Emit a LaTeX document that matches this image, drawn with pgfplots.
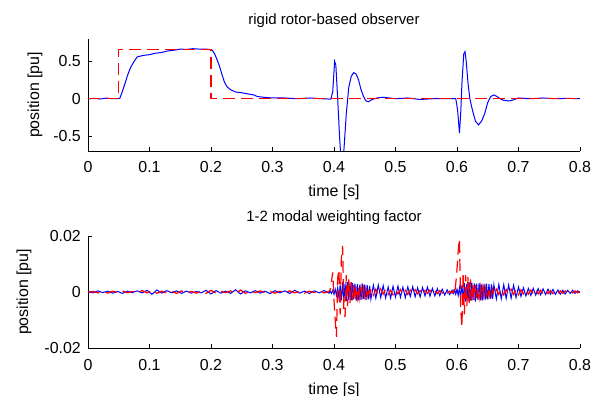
\documentclass[border=0pt]{standalone}
\usepackage{pgfplots}
\pgfplotsset{compat=1.18}
\usepackage{pgfplotstable}
\usepackage{fontspec}
\setmainfont{Liberation Sans}

\pgfplotstableread{
t b
0 0
0.01 0.005
0.02 -0.003
0.03 0.008
0.04 0
0.05 0.002
0.052 0.01
0.056 0.1
0.06 0.2
0.065 0.33
0.07 0.43
0.075 0.5
0.08 0.56
0.09 0.58
0.1 0.59
0.11 0.61
0.12 0.62
0.13 0.64
0.14 0.65
0.15 0.665
0.16 0.66
0.17 0.67
0.18 0.665
0.19 0.665
0.198 0.66
0.202 0.65
0.206 0.6
0.21 0.52
0.214 0.43
0.218 0.32
0.222 0.22
0.226 0.16
0.232 0.12
0.24 0.09
0.25 0.08
0.26 0.065
0.27 0.05
0.275 0.03
0.285 0.02
0.3 0.01
0.32 0.01
0.34 0
0.36 0.01
0.38 0
0.395 -0.005
0.398 0.1
0.401 0.5
0.403 0.45
0.406 0
0.409 -0.5
0.412 -0.9
0.416 -0.7
0.42 -0.2
0.424 0.15
0.428 0.3
0.432 0.35
0.436 0.33
0.44 0.25
0.444 0.12
0.448 0.03
0.452 -0.03
0.456 -0.04
0.462 -0.01
0.47 0.01
0.48 0.02
0.49 0.01
0.5 0
0.52 0.01
0.54 -0.01
0.56 0
0.58 0
0.598 0
0.601 -0.15
0.604 -0.46
0.606 -0.2
0.608 0.2
0.611 0.6
0.613 0.63
0.615 0.5
0.618 0.2
0.621 0
0.625 -0.15
0.63 -0.3
0.635 -0.35
0.64 -0.3
0.645 -0.2
0.65 -0.05
0.655 0.03
0.66 0.05
0.665 0.03
0.67 0
0.675 -0.02
0.685 -0.03
0.69 -0.02
0.70 0.01
0.72 0
0.74 0.01
0.76 0
0.78 0.005
0.8 0
}\topblue

\pgfplotstableread{
t r
0 0
0.05 0
0.05 0.66
0.2 0.66
0.2 0
0.8 0
}\topred

\pgfplotstableread{
t b r
0.000 0.0002 -0.0001
0.008 -0.0003 0.0002
0.016 0.0004 -0.0003
0.024 -0.0002 0.0001
0.032 0.0003 -0.0004
0.040 -0.0004 0.0003
0.048 0.0002 -0.0002
0.056 -0.0005 0.0004
0.064 0.0003 -0.0003
0.072 -0.0002 0.0002
0.080 0.0004 -0.0004
0.088 -0.0003 0.0005
0.096 0.0006 -0.0003
0.104 -0.0008 0.0006
0.112 0.0007 -0.0005
0.120 -0.0004 0.0003
0.128 0.0005 -0.0004
0.136 -0.0003 0.0002
0.144 0.0004 -0.0005
0.152 -0.0005 0.0004
0.160 0.0003 -0.0003
0.168 -0.0004 0.0002
0.176 0.0002 -0.0004
0.184 -0.0003 0.0003
0.192 0.0006 -0.0005
0.200 -0.0007 0.0006
0.208 0.0005 -0.0004
0.216 -0.0004 0.0003
0.224 0.0003 -0.0002
0.232 -0.0005 0.0004
0.240 0.0008 -0.0006
0.248 -0.0007 0.0007
0.256 0.0004 -0.0005
0.264 -0.0003 0.0003
0.272 0.0005 -0.0002
0.280 -0.0004 0.0004
0.288 0.0003 -0.0003
0.296 -0.0006 0.0002
0.304 0.0005 -0.0004
0.312 -0.0003 0.0003
0.320 0.0004 -0.0002
0.328 -0.0005 0.0004
0.336 0.0006 -0.0003
0.344 -0.0004 0.0002
0.352 0.0003 -0.0004
0.360 -0.0005 0.0003
0.368 0.0004 -0.0002
0.376 -0.0003 0.0004
0.384 0.0005 -0.0003
0.392 -0.0004 0.0002
0.394 0.0003 0.0010
0.396 -0.0005 0.0040
0.398 0.0006 0.0070
0.400 -0.0008 -0.0030
0.402 0.0010 -0.0100
0.404 -0.0012 -0.0160
0.406 0.0015 0.0050
0.408 -0.0020 0.0080
0.410 0.0025 -0.0080
0.412 -0.0030 0.0120
0.414 0.0035 0.0165
0.416 -0.0035 -0.0060
0.418 0.0030 -0.0090
0.420 -0.0032 0.0060
0.422 0.0036 -0.0050
0.424 -0.0028 0.0045
0.426 0.0034 -0.0040
0.428 -0.0030 0.0035
0.430 0.0032 -0.0030
0.432 -0.0026 0.0025
0.434 0.0030 -0.0030
0.436 -0.0032 0.0022
0.438 0.0028 -0.0020
0.440 -0.0030 0.0018
0.442 0.0026 -0.0022
0.444 -0.0028 0.0016
0.446 0.0030 -0.0015
0.448 -0.0024 0.0014
0.450 0.0026 -0.0016
0.452 -0.0028 0.0012
0.454 0.0024 -0.0014
0.456 -0.0026 0.0015
0.458 0.0022 -0.0012
0.460 -0.0025 0.0010
0.464 0.0024 -0.0012
0.468 -0.0022 0.0010
0.472 0.0025 -0.0009
0.476 -0.0020 0.0011
0.480 0.0023 -0.0008
0.484 -0.0021 0.0010
0.488 0.0018 -0.0009
0.492 -0.0022 0.0007
0.496 0.0020 -0.0010
0.500 -0.0018 0.0008
0.504 0.0021 -0.0007
0.508 -0.0019 0.0009
0.512 0.0017 -0.0008
0.516 -0.0020 0.0006
0.520 0.0018 -0.0009
0.524 -0.0016 0.0007
0.528 0.0019 -0.0006
0.532 -0.0017 0.0008
0.536 0.0015 -0.0007
0.540 -0.0018 0.0005
0.544 0.0016 -0.0008
0.548 -0.0014 0.0006
0.552 0.0017 -0.0005
0.556 -0.0015 0.0007
0.560 0.0013 -0.0006
0.564 -0.0014 0.0004
0.568 0.0012 -0.0006
0.572 -0.0013 0.0005
0.576 0.0010 -0.0004
0.580 -0.0011 0.0005
0.584 0.0008 -0.0004
0.588 -0.0009 0.0003
0.592 0.0006 -0.0004
0.594 -0.0005 0.0005
0.596 0.0006 -0.0010
0.598 -0.0008 0.0030
0.600 0.0010 0.0080
0.602 -0.0012 0.0150
0.604 0.0015 0.0190
0.606 -0.0020 -0.0060
0.608 0.0024 -0.0125
0.610 -0.0028 0.0070
0.612 0.0032 -0.0080
0.614 -0.0034 0.0060
0.616 0.0030 -0.0050
0.618 -0.0032 0.0055
0.620 0.0034 -0.0040
0.622 -0.0030 0.0045
0.624 0.0033 -0.0035
0.626 -0.0029 0.0030
0.628 0.0031 -0.0028
0.630 -0.0034 0.0025
0.632 0.0030 -0.0022
0.634 -0.0028 0.0020
0.636 0.0032 -0.0020
0.638 -0.0030 0.0018
0.640 0.0027 -0.0016
0.642 -0.0031 0.0017
0.644 0.0029 -0.0014
0.646 -0.0027 0.0015
0.648 0.0030 -0.0013
0.650 -0.0026 0.0012
0.652 0.0028 -0.0014
0.654 -0.0025 0.0011
0.656 0.0027 -0.0012
0.658 -0.0024 0.0010
0.660 0.0026 -0.0011
0.664 -0.0025 0.0010
0.668 0.0027 -0.0009
0.672 -0.0024 0.0011
0.676 0.0026 -0.0010
0.680 -0.0023 0.0009
0.684 0.0025 -0.0008
0.688 -0.0022 0.0010
0.692 0.0024 -0.0009
0.696 -0.0020 0.0008
0.700 0.0018 -0.0010
0.704 -0.0016 0.0008
0.708 0.0015 -0.0007
0.712 -0.0014 0.0009
0.716 0.0013 -0.0008
0.720 -0.0012 0.0007
0.724 0.0013 -0.0006
0.728 -0.0011 0.0008
0.732 0.0012 -0.0007
0.736 -0.0010 0.0006
0.740 0.0011 -0.0007
0.744 -0.0009 0.0005
0.748 0.0010 -0.0006
0.752 -0.0008 0.0005
0.756 0.0009 -0.0006
0.760 -0.0008 0.0004
0.764 0.0007 -0.0005
0.768 -0.0008 0.0004
0.772 0.0006 -0.0005
0.776 -0.0007 0.0004
0.780 0.0006 -0.0003
0.784 -0.0005 0.0004
0.788 0.0006 -0.0003
0.792 -0.0005 0.0004
0.796 0.0004 -0.0003
0.800 -0.0003 0.0002
}\bottomdata

\definecolor{mblue}{RGB}{0,0,255}
\definecolor{mred}{RGB}{255,0,0}

\pgfplotsset{
  mystyle/.style={
    scale only axis, width=492bp, height=112bp,
    xmin=0, xmax=0.8,
    axis x line*=bottom, axis y line*=left,
    hide obscured x ticks=false, hide obscured y ticks=false,
    tick align=inside, major tick length=4bp,
    axis line style={black, line width=0.9bp, -},
    tick style={black, line width=0.9bp},
    xtick={0,0.1,0.2,0.3,0.4,0.5,0.6,0.7,0.8},
    xticklabels={0,0.1,0.2,0.3,0.4,0.5,0.6,0.7,0.8},
    scaled y ticks=false,
    font=\fontsize{15}{18}\selectfont,
    tick label style={font=\fontsize{16}{19}\selectfont},
    xticklabel style={anchor=base, yshift=-22bp, inner sep=0pt},
    yticklabel style={anchor=east, inner sep=0pt, xshift=-7bp},
    xlabel={time [s]},
    xlabel style={at={(0.5,0)}, anchor=base, yshift=-46bp, inner sep=0pt, font=\fontsize{16}{19}\selectfont},
    ylabel={position [pu]},
    title style={at={(0.5,1)}, anchor=base, yshift=8.5bp, inner sep=0pt},
    clip=true,
  }
}

\begin{document}
\begin{tikzpicture}
\begin{axis}[mystyle, at={(88bp,245bp)}, anchor=south west,
  ymin=-0.7, ymax=0.8,
  ytick={-0.5,0,0.5}, yticklabels={-0.5,0,0.5},
  ylabel style={at={(0,0.5)}, anchor=center, yshift=53bp, inner sep=0pt, font=\fontsize{16}{19}\selectfont},
  title={rigid rotor-based observer}]
\addplot[mblue, line width=1bp] table[x=t, y=b] {\topblue};
\addplot[mred, line width=1.2bp, dash pattern=on 12bp off 6bp] table[x=t, y=r] {\topred};
\end{axis}
\begin{axis}[mystyle, at={(88bp,48bp)}, anchor=south west,
  ymin=-0.02, ymax=0.02,
  ytick={-0.02,0,0.02}, yticklabels={-0.02,0,0.02},
  ylabel style={at={(0,0.5)}, anchor=center, yshift=64bp, inner sep=0pt, font=\fontsize{16}{19}\selectfont},
  title={1-2 modal weighting factor}]
\addplot[mblue, line width=1bp] table[x=t, y=b] {\bottomdata};
\addplot[mred, line width=1.2bp, dash pattern=on 12bp off 6bp] table[x=t, y=r] {\bottomdata};
\end{axis}
\pgfresetboundingbox
\path[use as bounding box] (0,0) rectangle (602bp,396bp);
\end{tikzpicture}
\end{document}
